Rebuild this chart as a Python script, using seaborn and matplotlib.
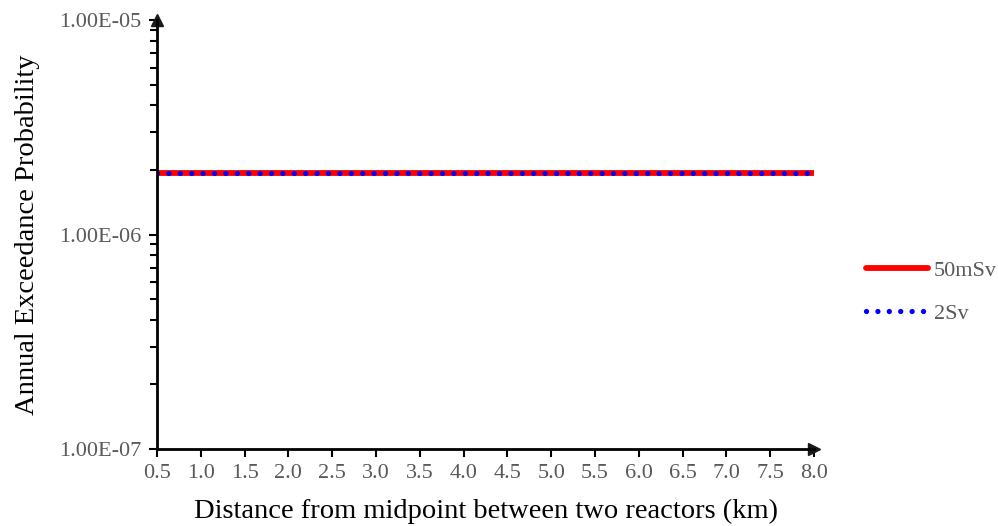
import matplotlib.pyplot as plt
import matplotlib.ticker as mticker
import seaborn as sns
import pandas as pd

distance_km = [0.5, 1.0, 1.5, 2.0, 2.5, 3.0, 3.5, 4.0, 4.5, 5.0, 5.5, 6.0, 6.5, 7.0, 7.5, 8.0]
p_50msv = [1.94e-6, 1.94e-6, 1.94e-6, 1.94e-6, 1.94e-6, 1.94e-6, 1.94e-6, 1.94e-6,
           1.94e-6, 1.94e-6, 1.94e-6, 1.94e-6, 1.94e-6, 1.94e-6, 1.94e-6, 1.94e-6]
p_2sv = [1.94e-6, 1.94e-6, 1.94e-6, 1.94e-6, 1.94e-6, 1.94e-6, 1.94e-6, 1.94e-6,
         1.94e-6, 1.94e-6, 1.94e-6, 1.94e-6, 1.94e-6, 1.94e-6, 1.94e-6, 1.94e-6]
x_ticks = [0.5, 1.0, 1.5, 2.0, 2.5, 3.0, 3.5, 4.0, 4.5, 5.0, 5.5, 6.0, 6.5, 7.0, 7.5, 8.0]

sns.set_theme(style="white")
plt.rcParams["font.family"] = ["Liberation Serif", "DejaVu Serif"]

df = pd.DataFrame({"Distance": distance_km * 2,
                   "Prob": p_50msv + p_2sv,
                   "Dose": ["50mSv"] * len(p_50msv) + ["2Sv"] * len(p_2sv)})

fig = plt.figure(figsize=(9.98, 5.26), dpi=100)
ax = fig.add_axes([157 / 998, 1 - 449 / 526, (814 - 157) / 998, (449 - 20) / 526])

sns.lineplot(data=df[df["Dose"] == "50mSv"], x="Distance", y="Prob", ax=ax,
             color="#ff0000", linewidth=4.2, solid_capstyle="round", label="50mSv")
sns.lineplot(data=df[df["Dose"] == "2Sv"], x="Distance", y="Prob", ax=ax,
             color="#0000ff", linewidth=3.8, linestyle=(0, (0.01, 2.15)),
             dash_capstyle="round", label="2Sv")

ax.set_yscale("log")
ax.set_ylim(1e-7, 1e-5)
ax.set_xlim(0.5, 8.0)
ax.set_xticks(x_ticks)
ax.xaxis.set_major_formatter(mticker.FormatStrFormatter("%.1f"))
ax.yaxis.set_major_formatter(mticker.FuncFormatter(lambda v, p: "%.2E" % v))
ax.yaxis.set_minor_formatter(mticker.NullFormatter())

for s in ["top", "right"]:
    ax.spines[s].set_visible(False)
for s in ["left", "bottom"]:
    ax.spines[s].set_color("black")
    ax.spines[s].set_linewidth(2)

ax.tick_params(axis="both", which="major", direction="out", length=6, width=1.5,
               color="black", labelsize=16, labelcolor="#595959", pad=5,
               bottom=True, left=True)
ax.tick_params(axis="y", which="minor", direction="out", length=5, width=1.5,
               color="black", left=True)

ax.plot(1, 0, ">k", markersize=9, transform=ax.transAxes, clip_on=False)
ax.plot(0, 1, "^k", markersize=9, transform=ax.transAxes, clip_on=False)

ax.set_xlabel("Distance from midpoint between two reactors (km)", fontsize=20.5, color="black", labelpad=11)
ax.set_ylabel("Annual Exceedance Probability", fontsize=20.5, color="black", labelpad=14)

ax.legend_.remove()
handles, labels = ax.get_legend_handles_labels()
fig.legend(handles, labels, loc="center left", bbox_to_anchor=(846 / 998, 1 - 292 / 526),
           frameon=False, fontsize=16, labelcolor="#595959", handlelength=2.8,
           handletextpad=0.25, labelspacing=1.0)

fig.savefig("out.png", dpi=100)
